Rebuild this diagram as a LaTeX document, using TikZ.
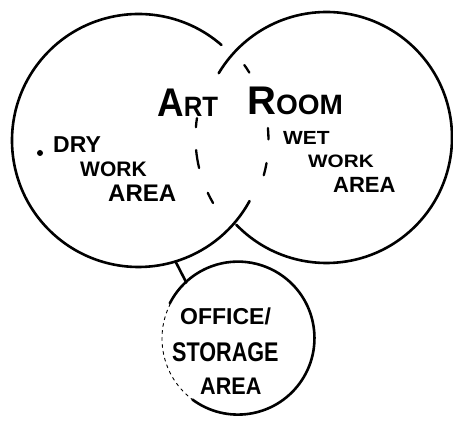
\documentclass[tikz,border=0pt]{standalone}
\usepackage{fontspec}
\setmainfont{Liberation Sans}
\usepackage{graphicx}
\newcommand\sz[1]{\fontsize{#1}{#1}\selectfont}
\begin{document}
\begin{tikzpicture}[x=1pt,y=1pt,
  ring/.style={circle, inner sep=0pt, outer sep=0pt},
  pen/.style={line width=2.6pt, line cap=round},
  dashpen/.style={line width=2.3pt, line cap=round},
  thinpen/.style={line width=0.9pt, dash pattern=on 3pt off 4pt, line cap=round},
  lbl/.style={inner sep=0pt, anchor=base west, text=black, font=\bfseries}]
\useasboundingbox (0,0) rectangle (453,428);
% bubbles
\node[ring, minimum size=253pt] (L) at (138.5,287.5) {};
\node[ring, minimum size=251pt] (R) at (326.5,290.5) {};
\node[ring, minimum size=153pt] (S) at (238.5,89.5) {};
% left bubble
\draw[pen] (L.49) arc[start angle=49, end angle=331.4, radius=126.5];
\draw[dashpen] ([shift={(35.5:130)}]L.center) arc[start angle=35.5, end angle=31.5, radius=130];
\draw[dashpen] ([shift={(5.5:130)}]L.center) arc[start angle=5.5, end angle=0.5, radius=130];
\draw[dashpen] ([shift={(-10:130)}]L.center) arc[start angle=-10, end angle=-15.5, radius=130];
% right bubble
\draw[pen] (R.224) arc[start angle=224, end angle=509.2, radius=125.5];
\draw[dashpen] ([shift={(171.5:131)}]R.center) arc[start angle=171.5, end angle=175.5, radius=131];
\draw[dashpen] ([shift={(185.5:131)}]R.center) arc[start angle=185.5, end angle=193.5, radius=131];
\draw[dashpen] ([shift={(205:131)}]R.center) arc[start angle=205, end angle=210, radius=131];
% small bubble
\draw[pen] (S.233.5) arc[start angle=233.5, end angle=513, radius=76.5];
\draw[thinpen] (S.153) arc[start angle=153, end angle=233.5, radius=76.5];
% connector
\draw[pen] (L.-73.4) -- (S.133);
% labels
\node[lbl] (art) at (157,311) {\scalebox{0.92}[1]{\sz{40}A\sz{28}RT}};
\node[lbl] (room) at (247,313) {\sz{40}R\sz{28}OOM};
\node[circle, fill=black, inner sep=0pt, minimum size=6pt] (dot) at (40,275) {};
\node[lbl] (dry) at (53,275) {\sz{23}DRY};
\node[lbl] (work1) at (80,251) {\sz{21}WORK};
\node[lbl] (area1) at (108,226) {\sz{24}AREA};
\node[lbl] (wet) at (283,283) {\scalebox{1.1}[1]{\sz{19}WET}};
\node[lbl] (work2) at (308,260) {\scalebox{1.15}[1]{\sz{18}WORK}};
\node[lbl] (area2) at (333,235) {\sz{22}AREA};
\node[lbl] (office) at (180,103) {\sz{23}OFFICE/};
\node[lbl] (storage) at (172,66) {\scalebox{0.8}[1]{\sz{27}STORAGE}};
\node[lbl] (area3) at (200,33) {\scalebox{0.9}[1]{\sz{24}AREA}};
\end{tikzpicture}
\end{document}
